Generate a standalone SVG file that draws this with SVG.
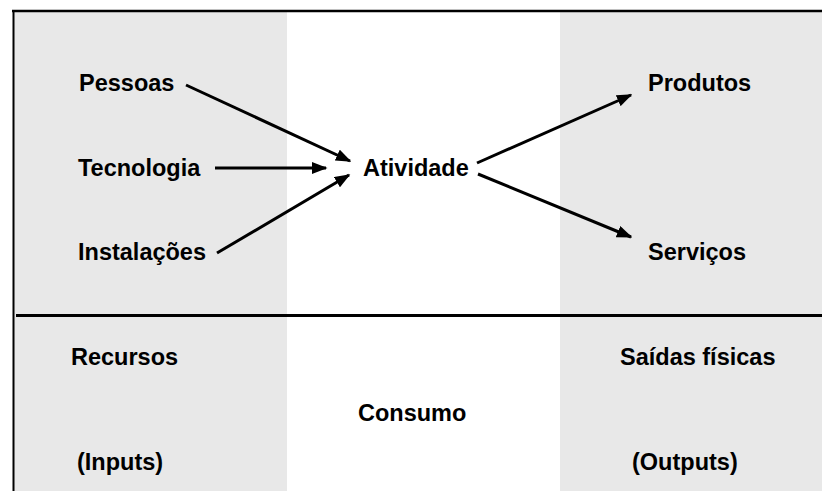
<svg xmlns="http://www.w3.org/2000/svg" width="822" height="491" viewBox="0 0 822 491">
  <style>
    .panel { fill: #e8e8e8; stroke: none; }
    .rule { stroke: #000; fill: none; }
    .lbl { font-family: "Liberation Sans", Arial, sans-serif; font-weight: bold; font-size: 23.5px; fill: #000; }
    .arrow { stroke: #000; stroke-width: 3; fill: none; marker-end: url(#head); }
  </style>
  <defs>
    <marker id="head" viewBox="0 0 10 10" refX="9" refY="5" markerWidth="5.2" markerHeight="4" orient="auto" markerUnits="strokeWidth" preserveAspectRatio="none">
      <path d="M0,0 L10,5 L0,10 z" fill="#000"/>
    </marker>
  </defs>

  <rect width="822" height="491" fill="#fff"/>

  <!-- shaded columns: resources and outputs -->
  <g id="columns">
    <rect class="panel" x="14" y="12" width="273" height="479"/>
    <rect class="panel" x="560" y="12" width="262" height="479"/>
  </g>

  <!-- frame and divider -->
  <g id="frame">
    <line class="rule" x1="12" y1="11" x2="822" y2="11" stroke-width="2.5"/>
    <line class="rule" x1="13.5" y1="10" x2="13.5" y2="491" stroke-width="2"/>
    <line class="rule" x1="16" y1="315.5" x2="822" y2="315.5" stroke-width="3"/>
  </g>

  <g id="connectors">
    <line class="arrow" x1="186" y1="85" x2="350" y2="161"/>
    <line class="arrow" x1="215" y1="168" x2="326" y2="168"/>
    <line class="arrow" x1="217" y1="253" x2="349" y2="175"/>
    <line class="arrow" x1="477" y1="163" x2="631" y2="95"/>
    <line class="arrow" x1="478" y1="174" x2="631" y2="237"/>
  </g>

  <g id="pessoas"><text class="lbl" x="79" y="91">Pessoas</text></g>
  <g id="tecnologia"><text class="lbl" x="78" y="176">Tecnologia</text></g>
  <g id="instalacoes"><text class="lbl" x="78" y="260">Instalações</text></g>
  <g id="atividade"><text class="lbl" x="363" y="176">Atividade</text></g>
  <g id="produtos"><text class="lbl" x="648" y="91">Produtos</text></g>
  <g id="servicos"><text class="lbl" x="648" y="260">Serviços</text></g>

  <g id="recursos">
    <text class="lbl" x="71" y="365">Recursos</text>
    <text class="lbl" x="77" y="470">(Inputs)</text>
  </g>
  <g id="consumo"><text class="lbl" x="358" y="421">Consumo</text></g>
  <g id="saidas">
    <text class="lbl" x="620" y="365">Saídas físicas</text>
    <text class="lbl" x="632" y="470">(Outputs)</text>
  </g>
</svg>
